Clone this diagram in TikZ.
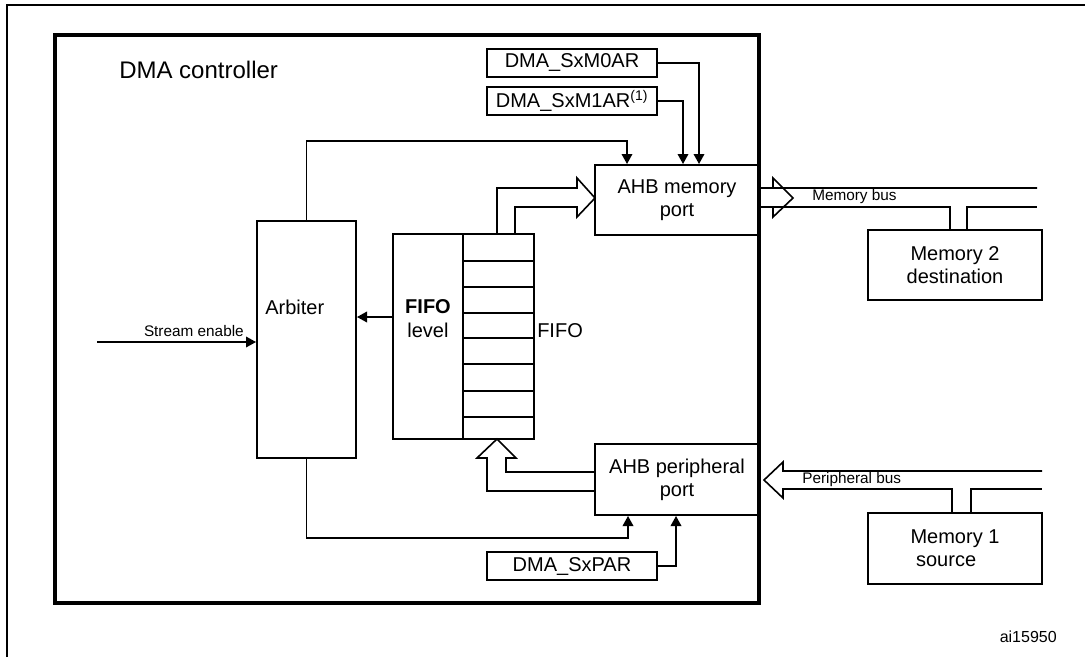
\documentclass[tikz,border=0pt]{standalone}
\usepackage{fontspec}
\setmainfont{Liberation Sans}
\usetikzlibrary{arrows.meta,calc}
\begin{document}
\begin{tikzpicture}[x=0.75pt,y=-0.75pt,
  box/.style={draw,line width=1.5pt,inner sep=0pt,font=\fontsize{15}{17}\selectfont,align=center},
  thin/.style={line width=1pt},
  arr/.style={line width=1pt,-{Triangle[length=7.5pt,width=8pt]}},
  hollow/.style={line width=1.2pt,line join=miter},
  small/.style={font=\fontsize{11.5}{13}\selectfont,inner sep=0pt}]
\useasboundingbox (0,0) rectangle (1085,657);
% outer frame
\draw[line width=1.2pt] (7,657) -- (7,5) -- (1085,5);
% controller
\node[draw,line width=2.4pt,minimum width=528pt,minimum height=426pt,inner sep=0pt] (ctrl) at (407,319) {};
\node[anchor=west,font=\fontsize{18}{20}\selectfont,inner sep=0pt] (ctrltxt) at (119,70) {DMA controller};
% boxes
\node[box,minimum width=127.5pt,minimum height=21pt] (m0) at (572,63) {DMA\_SxM0AR};
\node[box,minimum width=127.5pt,minimum height=21pt] (m1) at (572,101) {DMA\_SxM1AR\textsuperscript{(1)}};
\node[box,minimum width=123pt,minimum height=52.5pt] (mport) at (677,200) {AHB memory\\port};
\node[box,minimum width=123pt,minimum height=53.25pt] (pport) at (677,479.5) {AHB peripheral\\port};
\node[box,minimum width=127.5pt,minimum height=21pt] (par) at (572,566) {DMA\_SxPAR};
\node[box,minimum width=74.25pt,minimum height=177.75pt] (arb) at (306.5,339.5) {};
\node[anchor=west,font=\fontsize{15}{17}\selectfont,inner sep=0pt] (arbtxt) at (265,307) {Arbiter};
\node[box,minimum width=105.75pt,minimum height=153.75pt] (fifo) at (463.5,336.5) {};
\node[box,minimum width=130.5pt,minimum height=52.5pt] (mem2) at (955,265) {Memory 2\\destination};
\node[box,minimum width=130.5pt,minimum height=53.25pt,align=left] (mem1) at (955,548.5) {Memory 1\\\ source};
% FIFO internals
\draw[line width=1.5pt] (463,234) -- (463,439);
\foreach \yy in {261,287,313,338,364,391,417} \draw[line width=1.5pt] (463,\yy) -- (534,\yy);
\node[font=\bfseries\fontsize{15}{17}\selectfont,inner sep=0pt] (fifob) at (428,307) {FIFO};
\node[font=\fontsize{15}{17}\selectfont,inner sep=0pt] (fifol) at (428,330) {level};
\node[anchor=west,font=\fontsize{15}{17}\selectfont,inner sep=0pt] (fifor) at (537,331) {FIFO};
% control connectors
\draw[arr] (arb.north) -- ++(0,-79) -| ([xshift=-37.5pt]mport.north);
\draw[arr] (m1.east) -| ([xshift=4.5pt]mport.north);
\draw[arr] (m0.east) -| ([xshift=16.5pt]mport.north);
\draw[arr] (arb.south) -- ++(0,79) -| ([xshift=-36.75pt]pport.south);
\draw[arr] (par.east) -| ([xshift=-0.75pt]pport.south);
\draw[arr] (fifo.west |- 0,317) -- (arb.east |- 0,317);
\coordinate (se) at (97,342);
\draw[arr] (se) -- (arb.west |- se);
\node[small,anchor=south east] (setxt) at (244,337) {Stream enable};
% hollow: FIFO -> memory port
\draw[hollow] (497,234) -- (497,188) -- (577,188) -- (577,178) -- (595,198) -- (577,217) -- (577,207) -- (515,207) -- (515,234);
% hollow: memory port -> memory bus
\draw[hollow] (1037,188) -- (773,188) -- (773,178) -- (793,198) -- (773,217) -- (773,207) -- (950,207) -- (950,230);
\draw[hollow] (967,230) -- (967,207) -- (1037,207);
\draw[hollow] (759,188) -- (773,188);
\draw[hollow] (759,207) -- (773,207);
\node[small,anchor=west] (mbus) at (812,197) {Memory bus};
% hollow: peripheral bus -> peripheral port
\draw[hollow] (1042,471) -- (783,471) -- (783,462) -- (764,480) -- (783,498) -- (783,489) -- (952,489) -- (952,513);
\draw[hollow] (971,513) -- (971,489) -- (1042,489);
\node[small,anchor=west] (pbus) at (802,480) {Peripheral bus};
% hollow: peripheral port -> FIFO
\draw[hollow] (595,472) -- (506,472) -- (506,458) -- (516,458) -- (497,439) -- (477,458) -- (487,458) -- (487,491) -- (595,491);
% footnote id
\node[anchor=east,font=\fontsize{12}{14}\selectfont,inner sep=0pt] (id) at (1057,637) {ai15950};
\end{tikzpicture}
\end{document}
